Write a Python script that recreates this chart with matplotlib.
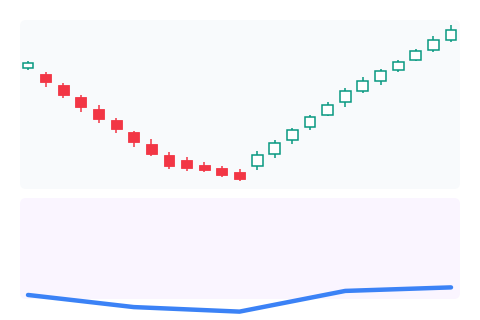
import matplotlib
matplotlib.use("Agg")
import matplotlib.pyplot as plt
import numpy as np
from matplotlib.patches import FancyBboxPatch

# Candle data (open, high, low, close)
opens = [114.2, 113.0, 110.8, 108.5, 106.1, 103.8, 101.4, 99.1, 96.8, 95.9, 94.9, 94.2, 93.5,
         94.6, 97.1, 99.9, 102.5, 104.9, 107.5, 109.7, 111.7, 113.9, 115.9, 117.8, 119.9]
highs = [115.7, 113.4, 111.2, 108.8, 106.8, 104.2, 101.7, 100.1, 97.4, 96.5, 95.4, 94.7, 94.0,
         97.7, 99.9, 102.2, 104.9, 107.4, 110.2, 112.5, 114.1, 115.8, 118.1, 120.7, 122.8]
lows = [113.8, 110.5, 108.2, 105.5, 103.2, 101.3, 98.5, 96.7, 94.1, 93.7, 93.5, 92.5, 91.7,
        93.8, 96.2, 99.1, 101.9, 104.6, 106.5, 109.3, 110.9, 113.4, 115.7, 117.4, 119.4]
closes = [115.3, 111.4, 108.8, 106.4, 104.1, 102.0, 99.5, 97.1, 94.7, 94.3, 93.8, 92.9, 92.1,
          96.8, 99.3, 101.9, 104.4, 106.9, 109.7, 111.6, 113.7, 115.5, 117.7, 119.9, 121.9]

# Lower panel indicator
ind_x = [0, 6, 12, 18, 24]
ind_y = [4.0, -8.0, -12.5, 8.0, 11.5]

up_col = "#089981"
down_col = "#f23645"

fig = plt.figure(figsize=(4.8, 3.2), dpi=100)
fig.patch.set_facecolor("white")

# rounded panel backgrounds
def panel(rect, color):
    x0, y0, w, h = rect
    p = FancyBboxPatch((x0, y0), w, h, boxstyle="round,pad=0,rounding_size=0.0125",
                       mutation_aspect=1.5, transform=fig.transFigure,
                       facecolor=color, edgecolor="none", zorder=-5)
    fig.patches.append(p)

top_rect = [20 / 480, 1 - 189 / 320, 440 / 480, 169 / 320]
bot_rect = [20 / 480, 1 - 299 / 320, 440 / 480, 101 / 320]
panel(top_rect, "#f8fafc")
panel(bot_rect, "#faf5ff")

ax = fig.add_axes(top_rect)
ax2 = fig.add_axes(bot_rect)
for a in (ax, ax2):
    a.patch.set_visible(False)
    for s in a.spines.values():
        s.set_visible(False)
    a.set_xticks([])
    a.set_yticks([])
    a.set_xlim(-0.454, 24.51)

ax.set_ylim(90, 123.8)
ax2.set_ylim(0, 100)

x = np.arange(len(opens))
o = np.array(opens)
c = np.array(closes)
up = c >= o
w = 0.62

# wicks
for i in x:
    col = up_col if up[i] else down_col
    ax.vlines(i, lows[i], highs[i], color=col, linewidth=1.1, zorder=2)

# bodies
ax.bar(x[~up], (o - c)[~up], bottom=c[~up], width=w, color=down_col,
       edgecolor=down_col, linewidth=0.6, zorder=3)
ax.bar(x[up], (c - o)[up], bottom=o[up], width=w, color="white",
       edgecolor=up_col, linewidth=1.1, zorder=3)

ax2.plot(ind_x, ind_y, color="#3b82f6", linewidth=3.2, solid_capstyle="round",
         solid_joinstyle="round", clip_on=False)

fig.savefig("out.png", dpi=100)
